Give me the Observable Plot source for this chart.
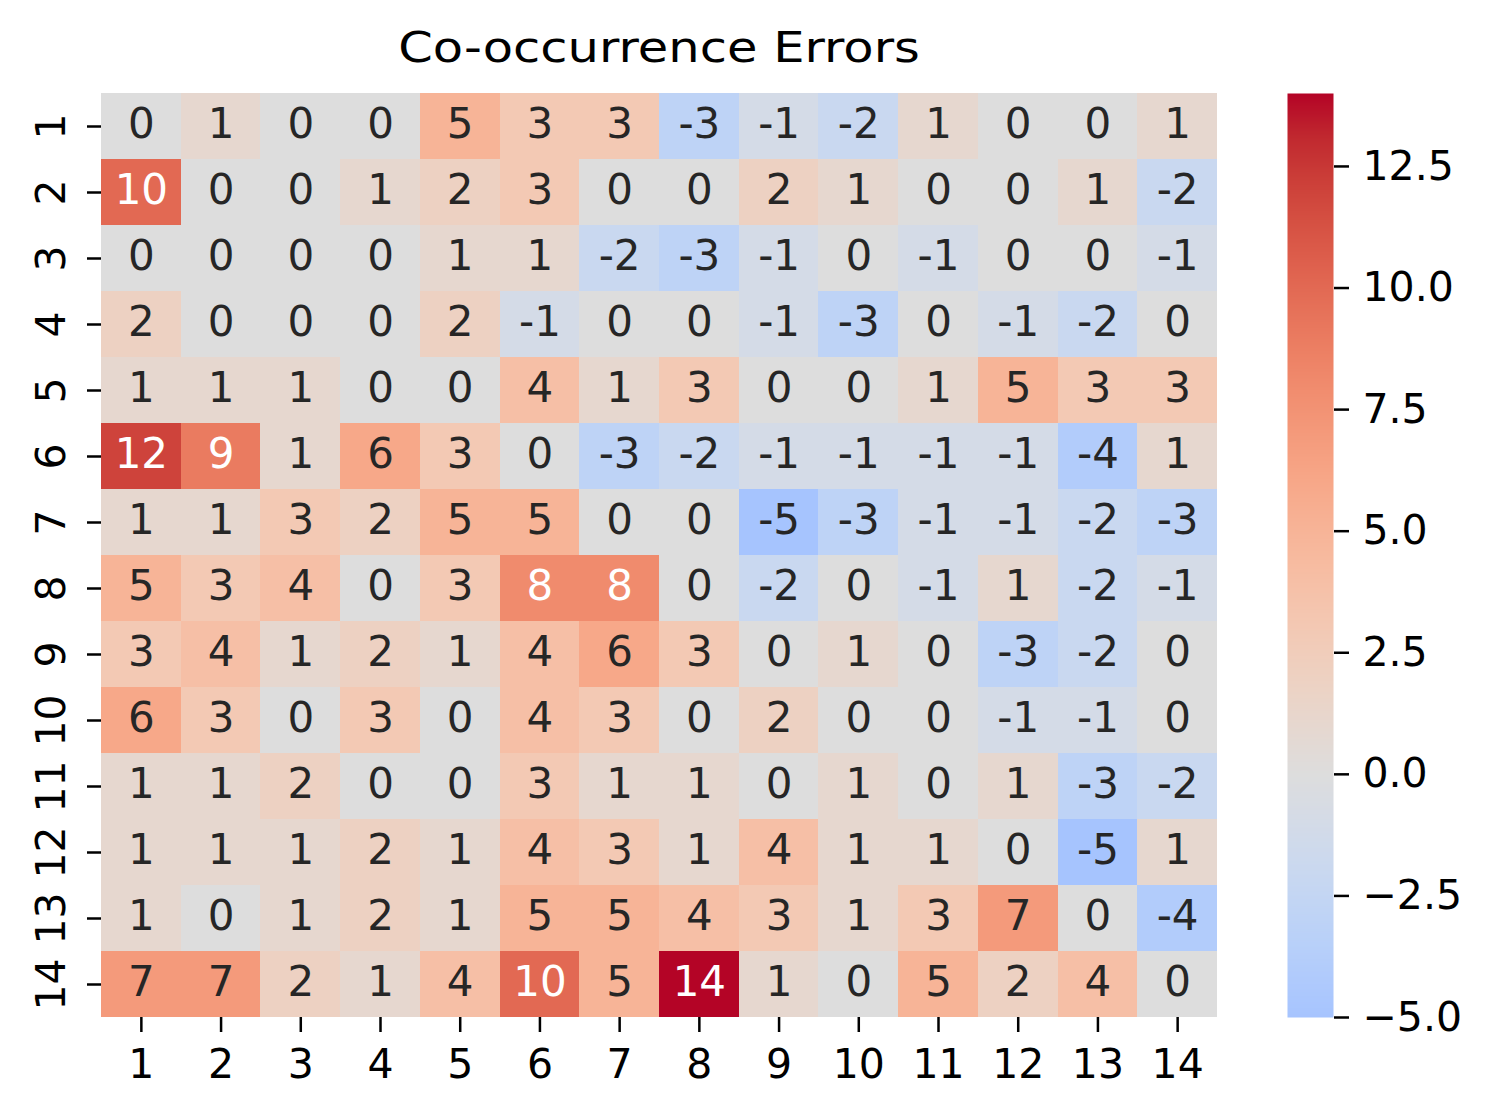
<!DOCTYPE html>
<html><head><meta charset="utf-8">
<script src="https://cdn.jsdelivr.net/npm/d3@7"></script>
<script src="https://cdn.jsdelivr.net/npm/@observablehq/plot@0.6"></script>
<style>
body{margin:0;background:#fff;}
#root{position:relative;width:1493px;height:1118px;font-family:"DejaVu Sans";overflow:hidden;}
#title{position:absolute;left:0;top:24px;width:1318px;text-align:center;font-size:42px;line-height:48px;color:#000;transform:scaleX(1.18);transform-origin:50% 50%;white-space:nowrap;}
#heat{position:absolute;left:0;top:93px;}
#bar{position:absolute;left:1287px;top:93px;}
</style></head><body>
<div id="root"><div id="title">Co-occurrence Errors</div><div id="heat"></div><div id="bar"></div></div>
<script>
const rowLabels = ["1","2","3","4","5","6","7","8","9","10","11","12","13","14"];
const colLabels = ["1","2","3","4","5","6","7","8","9","10","11","12","13","14"];
const errors = [
  [0, 1, 0, 0, 5, 3, 3, -3, -1, -2, 1, 0, 0, 1],
  [10, 0, 0, 1, 2, 3, 0, 0, 2, 1, 0, 0, 1, -2],
  [0, 0, 0, 0, 1, 1, -2, -3, -1, 0, -1, 0, 0, -1],
  [2, 0, 0, 0, 2, -1, 0, 0, -1, -3, 0, -1, -2, 0],
  [1, 1, 1, 0, 0, 4, 1, 3, 0, 0, 1, 5, 3, 3],
  [12, 9, 1, 6, 3, 0, -3, -2, -1, -1, -1, -1, -4, 1],
  [1, 1, 3, 2, 5, 5, 0, 0, -5, -3, -1, -1, -2, -3],
  [5, 3, 4, 0, 3, 8, 8, 0, -2, 0, -1, 1, -2, -1],
  [3, 4, 1, 2, 1, 4, 6, 3, 0, 1, 0, -3, -2, 0],
  [6, 3, 0, 3, 0, 4, 3, 0, 2, 0, 0, -1, -1, 0],
  [1, 1, 2, 0, 0, 3, 1, 1, 0, 1, 0, 1, -3, -2],
  [1, 1, 1, 2, 1, 4, 3, 1, 4, 1, 1, 0, -5, 1],
  [1, 0, 1, 2, 1, 5, 5, 4, 3, 1, 3, 7, 0, -4],
  [7, 7, 2, 1, 4, 10, 5, 14, 1, 0, 5, 2, 4, 0]
];
const colorbarTicks = [-5, -2.5, 0, 2.5, 5, 7.5, 10, 12.5];
const valueMin = -5, valueMax = 14, center = 0;

// matplotlib "coolwarm" (Moreland) stops
const coolwarm = [
  [59,76,192],[68,90,204],[77,104,215],[87,117,225],[98,130,234],[108,142,241],[119,154,247],[130,165,251],
  [141,176,254],[152,185,255],[163,194,255],[174,201,253],[184,208,249],[194,213,244],[204,217,238],[213,219,230],
  [221,221,221],[229,216,209],[236,211,197],[241,204,185],[245,196,173],[247,187,160],[247,177,148],[247,166,135],
  [244,154,123],[241,141,111],[236,127,99],[229,112,88],[222,96,77],[213,80,66],[203,62,56],[192,40,47],[180,4,38]
].map(([r,g,b]) => `rgb(${r},${g},${b})`);
const interp = d3.piecewise(d3.interpolateRgb, coolwarm);
const vrange = Math.max(valueMax - center, center - valueMin);
const cdomain = [center - vrange, center + vrange];
const colorScale = {type: "linear", domain: cdomain, interpolate: interp};

function lum(c) {
  const {r, g, b} = d3.rgb(c);
  const f = v => { v /= 255; return v <= 0.03928 ? v / 12.92 : Math.pow((v + 0.055) / 1.055, 2.4); };
  return 0.2126 * f(r) + 0.7152 * f(g) + 0.0722 * f(b);
}
const isDark = v => lum(interp((v - cdomain[0]) / (cdomain[1] - cdomain[0]))) <= 0.408;

const cells = [];
errors.forEach((row, i) => row.forEach((v, j) => cells.push({row: rowLabels[i], col: colLabels[j], value: v})));

const heat = Plot.plot({
  width: 1240, height: 1024,
  marginLeft: 101, marginRight: 23, marginTop: 0, marginBottom: 100,
  style: {fontFamily: "DejaVu Sans", fontSize: "41px", color: "#000", background: "transparent", overflow: "visible"},
  x: {type: "band", domain: colLabels, padding: 0, round: false, label: null},
  y: {type: "band", domain: rowLabels, padding: 0, round: false, label: null},
  color: colorScale,
  marks: [
    Plot.cell(cells, {x: "col", y: "row", fill: "value", inset: 0, shapeRendering: "crispEdges"}),
    Plot.text(cells, {filter: d => isDark(d.value), x: "col", y: "row", text: d => String(d.value), fill: "white", fontSize: 42, dy: -2}),
    Plot.text(cells, {filter: d => !isDark(d.value), x: "col", y: "row", text: d => String(d.value), fill: "#262626", fontSize: 42, dy: -2}),
    Plot.axisX({tickSize: 15, tickPadding: 16, strokeWidth: 2.5, label: null, fontSize: 41}),
    Plot.axisY({tickSize: 14, tickPadding: 23, tickRotate: -90, textAnchor: "middle", lineAnchor: "bottom", strokeWidth: 2.5, label: null, fontSize: 41})
  ]
});
document.getElementById("heat").appendChild(heat);

const bar = Plot.plot({
  width: 206, height: 954,
  marginLeft: 0, marginRight: 160, marginTop: 0, marginBottom: 30,
  style: {fontFamily: "DejaVu Sans", fontSize: "41px", color: "#000", background: "transparent", overflow: "visible"},
  x: {domain: [0, 1], axis: null},
  y: {domain: [valueMin, valueMax]},
  color: colorScale,
  marks: [
    Plot.raster({fill: (x, y) => y, x1: 0, x2: 1, y1: valueMin, y2: valueMax}),
    Plot.axisY(colorbarTicks, {anchor: "right", tickSize: 15, tickPadding: 14, strokeWidth: 2.5, label: null, fontSize: 41,
      tickFormat: d => d.toFixed(1).replace("-", "\u2212")})
  ]
});
document.getElementById("bar").appendChild(bar);
</script>
</body></html>
